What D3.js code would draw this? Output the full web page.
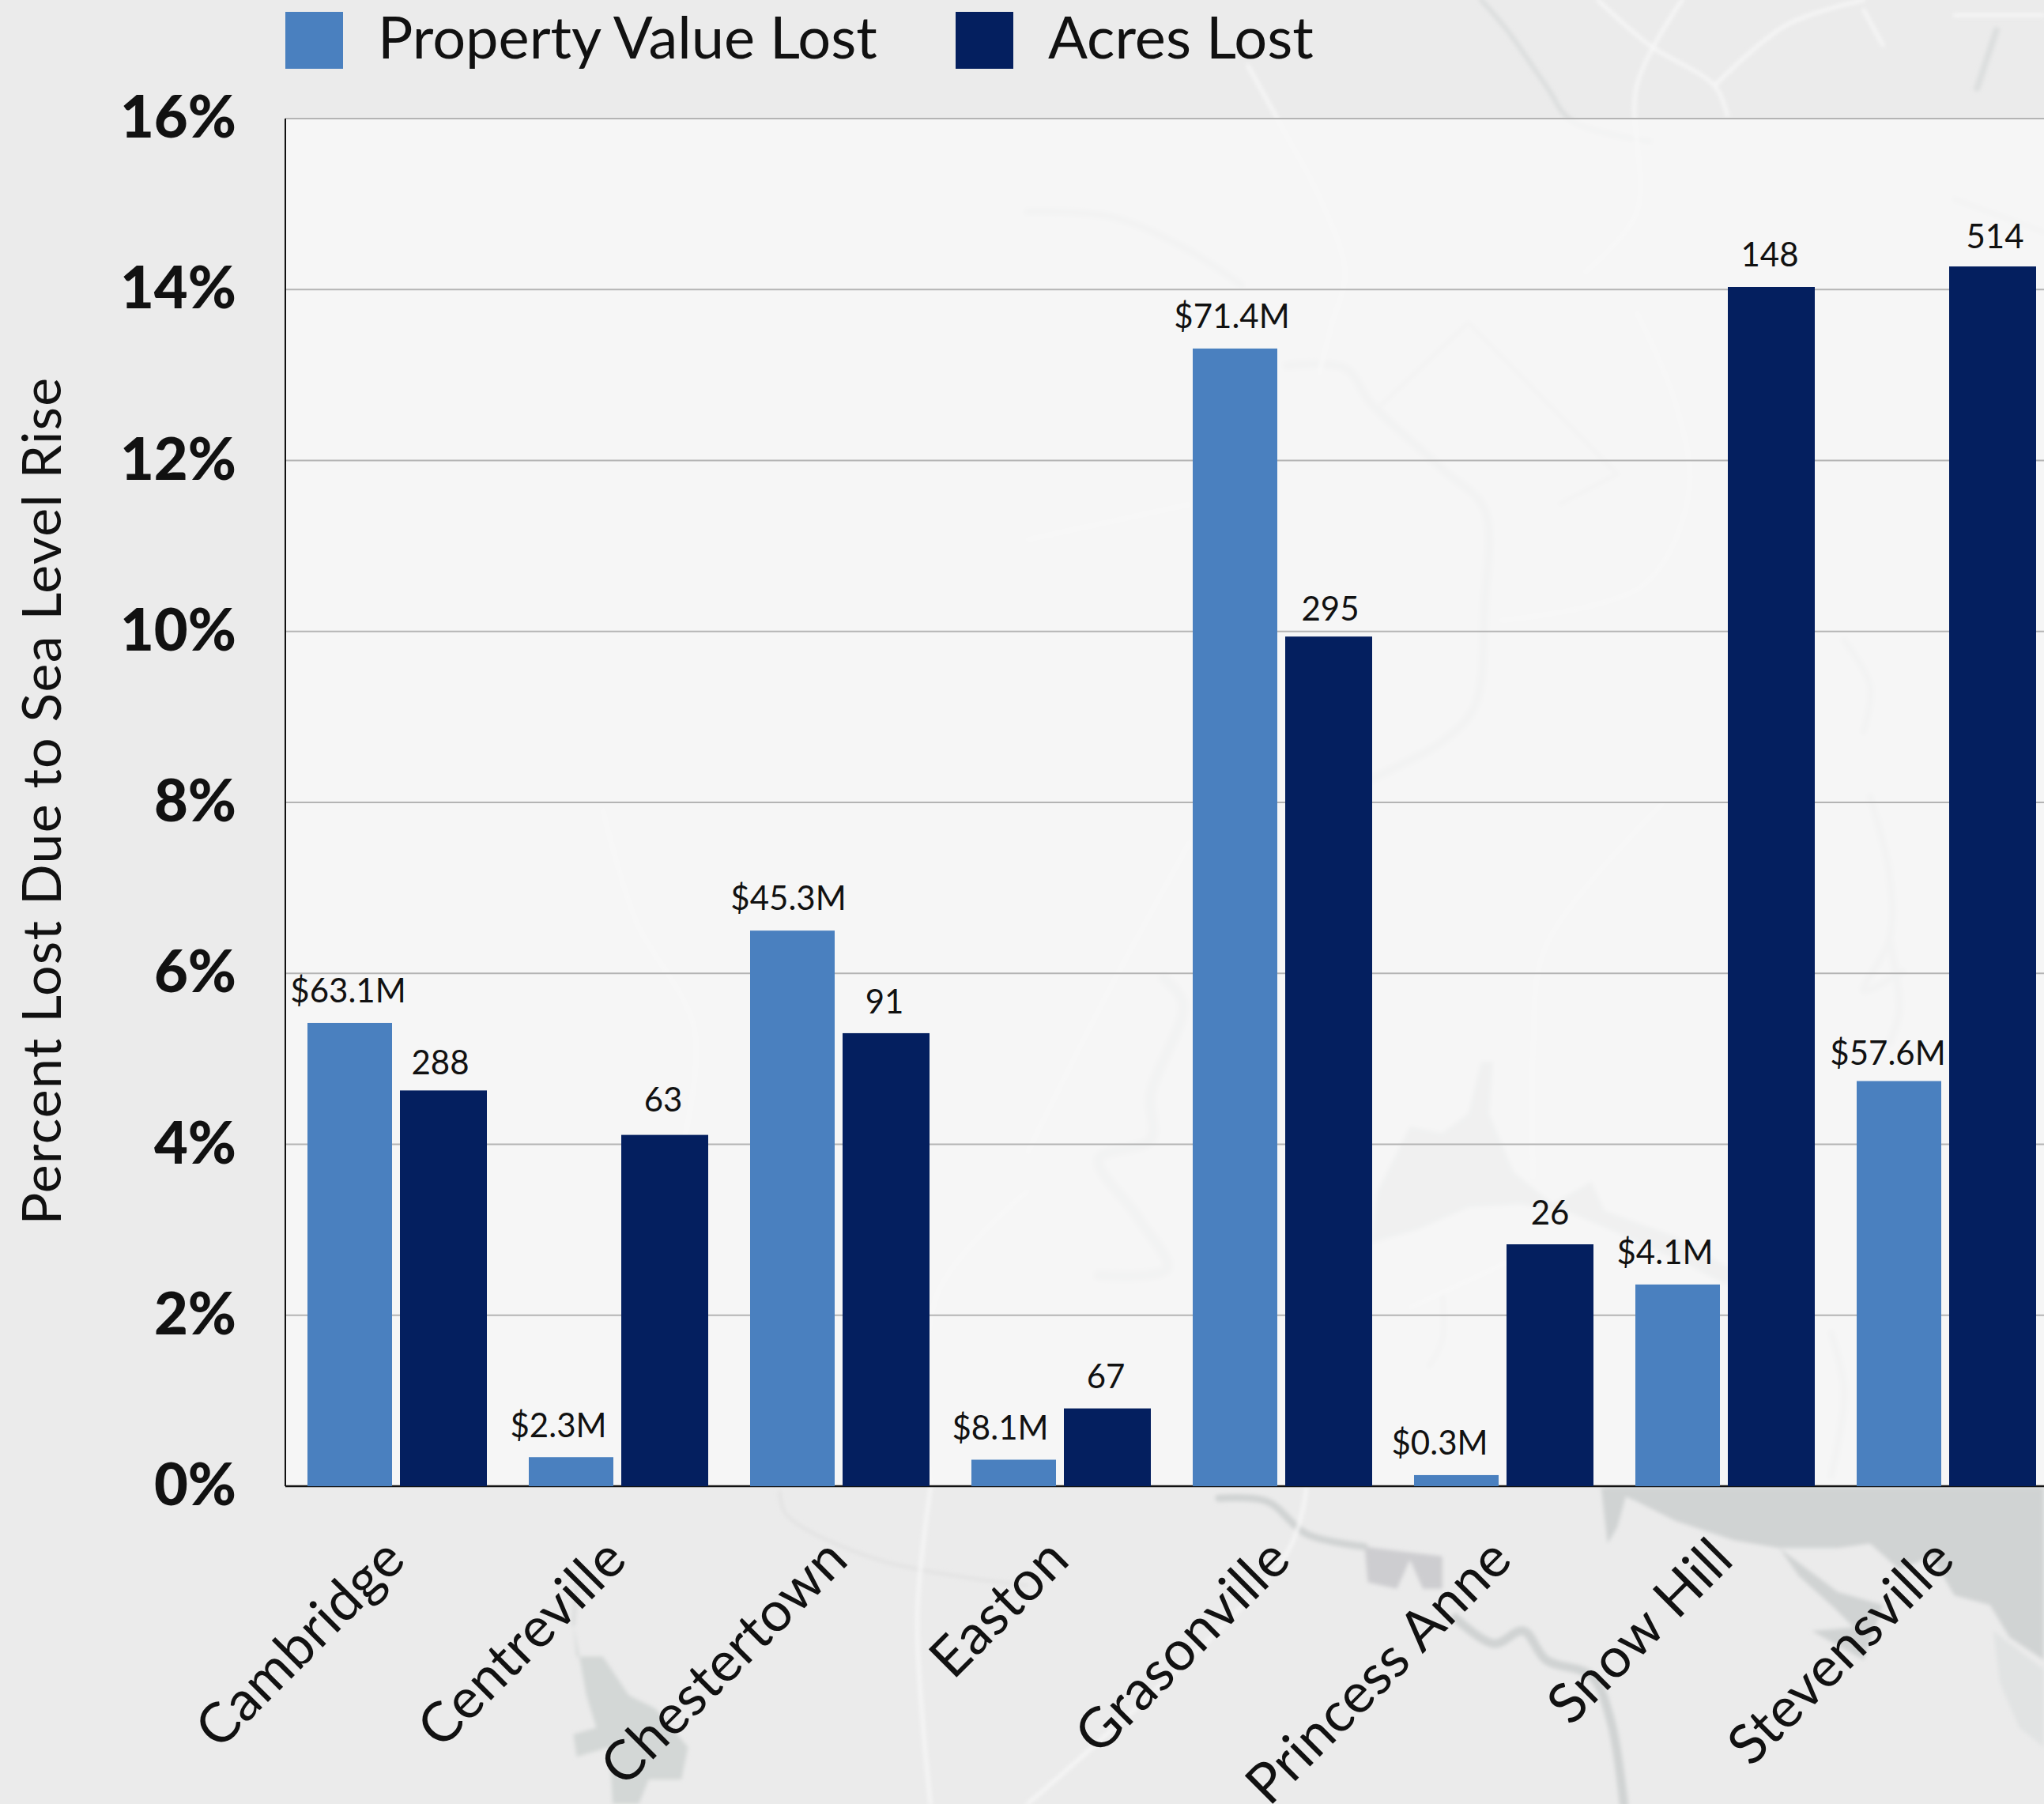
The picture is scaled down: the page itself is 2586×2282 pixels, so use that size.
<!DOCTYPE html>
<html><head><meta charset="utf-8">
<script src="https://cdn.jsdelivr.net/npm/d3@7"></script>
<style>html,body{margin:0;padding:0;background:#ebebeb;overflow:hidden}svg{display:block}text{font-family:Lato,sans-serif;fill:#111}</style>
</head><body><svg id="c" width="2586" height="2282"></svg>
<script>
const categories=["Cambridge","Centreville","Chestertown","Easton","Grasonville","Princess Anne","Snow Hill","Stevensville"];
const propertyPct=[5.42,0.34,6.5,0.31,13.31,0.13,2.36,4.74];
const acresPct=[4.63,4.11,5.3,0.91,9.94,2.83,14.03,14.27];
const propertyLabels=["$63.1M","$2.3M","$45.3M","$8.1M","$71.4M","$0.3M","$4.1M","$57.6M"];
const acresLabels=["288","63","91","67","295","26","148","514"];
const yTicks=[0,2,4,6,8,10,12,14,16];
const seriesNames=["Property Value Lost","Acres Lost"];
const seriesColors=["#4a80bf","#041f5f"];

const svg=d3.select("#c");
const L=361,T=150,B=1880,R=361+8*280;
const x=d3.scaleBand().domain(categories).range([L,R]).paddingInner(0).paddingOuter(0);
const y=d3.scaleLinear().domain([0,16]).range([B,T]);
const barsX=[28,145],barsW=[107,110];
const labelNudge=[
 {dx:[-2,-16,-5,-17,-4,-21,-16,-14],dy:[2,3,2,3,2,2,2,8]},
 {dx:[-4,-2,-2,-2,2,0,-2,3],dy:[8,-2,3,2,8,3,2,5]}];

svg.append("rect").attr("width",2586).attr("height",2282).attr("fill","#ebebeb");

// faint basemap behind the chart
const defs=svg.append("defs");
defs.append("filter").attr("id","soft").append("feGaussianBlur").attr("stdDeviation",2.4);
const base=svg.append("g").attr("filter","url(#soft)");
const top4=(p)=>[1300+p[0]*0.82,p[1]*0.638];
const low5=(p)=>[1300+p[0]*0.82,1000+p[1]*0.8176];
const low6=(p)=>[p[0]*0.829,1000+p[1]*0.8176];
const smooth=d3.line().curve(d3.curveCatmullRom.alpha(0.5));
const closed=d3.line().curve(d3.curveLinearClosed);
const water="#d0d3d3",stream="#dcdede",road="#f8f8f8";
function area(pts,f,c){base.append("path").attr("d",closed(pts.map(f))).attr("fill",c||water);}
function river(pts,f,w,c){base.append("path").attr("d",smooth(pts.map(f))).attr("fill","none").attr("stroke",c||stream).attr("stroke-width",w).attr("stroke-linejoin","round").attr("stroke-linecap","round");}

area([[890,1078],[1568,1078],[1568,1345],[1515,1310],[1485,1260],[1430,1245],[1395,1185],[1345,1205],[1300,1165],[1250,1172],[1160,1172],[1190,1215],[1245,1265],[1275,1295],[1210,1300],[1290,1345],[1320,1260],[1250,1240],[1160,1172],[1090,1160],[1000,1130],[940,1100]],low5);
area([[1490,1300],[1568,1360],[1568,1480],[1530,1450],[1500,1380]],low5,"#e1e3e3");
area([[885,1078],[925,1085],[910,1140],[895,1165]],low5);
area([[700,420],[680,500],[640,530],[590,520],[540,620],[530,700],[600,680],[680,645],[760,640],[830,650],[900,680],[1000,725],[1080,765],[1085,740],[1000,690],[890,650],[870,605],[810,640],[750,590],[712,500],[718,420]],low5);
area([[520,1170],[640,1185],[640,1235],[610,1235],[590,1190],[570,1235],[525,1225]],low5,"#cdcdd0");
river([[295,1095],[370,1100],[430,1150],[520,1170]],low5,9,water);
river([[660,1280],[720,1320],[765,1300],[800,1345],[870,1370],[900,1440],[920,1568]],low5,11,water);
river([[1300,10],[1330,130],[1330,230],[1290,310],[1350,280]],low5,8);
river([[1330,230],[1345,340],[1330,390]],low5,9);
river([[210,290],[240,330],[190,470],[190,540],[110,570],[170,660],[215,740],[110,750]],low5,13);
river([[640,780],[640,850],[620,890]],low5,5);
river([[1240,840],[1260,930],[1240,1060]],low5,8);
river([[0,420],[130,430],[240,490],[330,565]],top4,8);
river([[400,725],[490,730],[530,800],[640,930],[705,1010],[705,1200],[690,1400],[640,1470],[570,1520],[530,1545]],top4,10);
river([[700,0],[740,60],[800,170],[840,240],[960,280]],top4,6);
river([[1495,60],[1465,175]],top4,8);
river([[1260,1270],[1300,1360],[1290,1450]],top4,7);
river([[1430,395],[1568,460]],top4,5);
[[[680,640],[540,810],[640,930]],[[680,640],[910,940],[820,1000]]].forEach(p=>{
 base.append("path").attr("d",d3.line()(p.map(top4))).attr("fill","none").attr("stroke","#dadada").attr("stroke-width",3);});
area([[875,1290],[880,1340],[920,1340],[960,1400],[1000,1420],[1050,1480],[1040,1530],[990,1530],[975,1568],[935,1568],[930,1480],[880,1495],[875,1460],[910,1450],[895,1400]],low6,"#d3d7d6");
river([[1190,1085],[1200,1120],[1340,1190],[1568,1230]],low6,4,"#e2e2e2");
river([[880,1230],[875,1290]],low6,5);
[
 [[[340,130],[400,270],[450,390],[490,540],[470,640],[450,740]],top4],
 [[[880,0],[960,90],[1060,170],[1080,230]],top4],
 [[[1060,170],[1170,50],[1290,0]],top4],
 [[[1290,20],[1320,90]],top4],
 [[[1010,0],[940,170],[940,420],[860,540]],top4],
 [[[1430,30],[1568,30]],top4],
 [[[0,1070],[250,1000]],top4],
 [[[940,620],[1000,800],[1020,980],[950,1160],[730,1230]],top4],
 [[[250,80],[120,320],[0,560]],low5],
 [[[980,20],[800,240],[780,400],[780,600]],low5],
 [[[740,730],[590,800]],low5],
 [[[1420,1080],[1400,1280],[1420,1568]],low6],
 [[[920,30],[970,200],[1060,370],[1040,560]],low6],
 [[[1568,620],[1430,780],[1420,1080]],low6],
 [[[430,1080],[400,1180],[0,1568]],low5]
].forEach(r=>river(r[0],r[1],4,road));

svg.append("rect").attr("x",L).attr("y",T).attr("width",2586-L).attr("height",B-T).attr("fill","#f9f9f9").attr("fill-opacity",0.78);

const yAxis=d3.axisLeft(y).tickValues(yTicks).tickSize(0).tickPadding(62).tickFormat(d=>d+"%");
const gy=svg.append("g").attr("transform",`translate(${L},0)`).call(yAxis);
gy.select(".domain").remove();
gy.selectAll("text").attr("font-size",74).attr("font-weight",900).style("font-family","Lato,sans-serif").attr("fill","#111");
svg.append("g").selectAll("line").data(yTicks.filter(d=>d>0)).join("line")
 .attr("x1",L).attr("x2",2586).attr("y1",d=>y(d)).attr("y2",d=>y(d)).attr("stroke","#b4b4b4").attr("stroke-width",2);
svg.append("line").attr("x1",L).attr("x2",L).attr("y1",T).attr("y2",B).attr("stroke","#111").attr("stroke-width",2);
svg.append("line").attr("x1",L).attr("x2",2586).attr("y1",B).attr("y2",B).attr("stroke","#111").attr("stroke-width",2.5);

[propertyPct,acresPct].forEach((vals,s)=>{
 svg.append("g").selectAll("rect").data(vals).join("rect")
  .attr("x",(d,i)=>x(categories[i])+barsX[s]).attr("width",barsW[s])
  .attr("y",d=>y(d)).attr("height",d=>y(0)-y(d)).attr("fill",seriesColors[s]);
 const labs=s?acresLabels:propertyLabels;
 svg.append("g").selectAll("text").data(vals).join("text")
  .attr("x",(d,i)=>x(categories[i])+barsX[s]+barsW[s]/2+labelNudge[s].dx[i]).attr("y",(d,i)=>y(d)-28+labelNudge[s].dy[i])
  .attr("text-anchor","middle").attr("font-size",42).attr("fill","#222").text((d,i)=>labs[i]);
});

svg.append("g").selectAll("text").data(categories).join("text")
 .attr("text-anchor","end").attr("font-size",70).attr("letter-spacing",0.6)
 .attr("transform",d=>`translate(${x(d)+x.bandwidth()/2+15},${1976}) rotate(-45)`).text(d=>d);

svg.append("text").attr("transform","translate(77,1013) rotate(-90)").attr("text-anchor","middle").attr("font-size",68).attr("letter-spacing",1.3).text("Percent Lost Due to Sea Level Rise");

const legend=[[361,478],[1209,1326]];
seriesNames.forEach((n,i)=>{
 svg.append("rect").attr("x",legend[i][0]).attr("y",15).attr("width",73).attr("height",72).attr("fill",seriesColors[i]);
 svg.append("text").attr("x",legend[i][1]).attr("y",74).attr("font-size",74).text(n);
});
</script></body></html>
